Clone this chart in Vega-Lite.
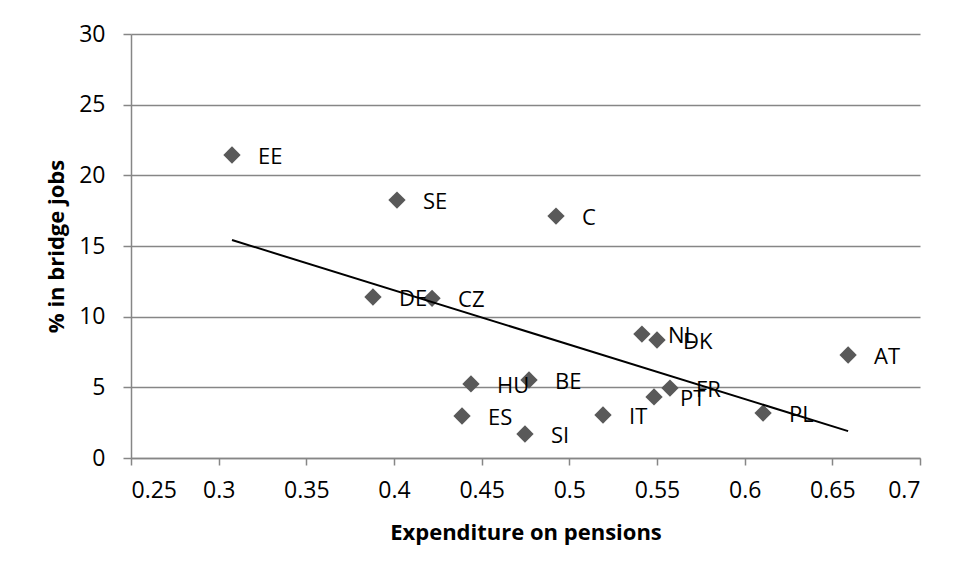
{
  "$schema": "https://vega.github.io/schema/vega-lite/v6.json",
  "width": 789,
  "height": 424,
  "autosize": {"type": "none"},
  "padding": {"left": 131, "top": 34, "right": 34, "bottom": 120},
  "background": "white",
  "config": {
    "view": {"stroke": null},
    "font": "Open Sans",
    "axis": {"labelFont": "Open Sans", "titleFont": "Open Sans", "labelColor": "#000000", "titleColor": "#000000"}
  },
  "data": {
    "values": [
      {"country": "EE", "pension": 0.3076, "bridge": 21.44},
      {"country": "SE", "pension": 0.4017, "bridge": 18.25},
      {"country": "C", "pension": 0.4924, "bridge": 17.12},
      {"country": "DE", "pension": 0.388, "bridge": 11.39},
      {"country": "CZ", "pension": 0.4217, "bridge": 11.3},
      {"country": "NL", "pension": 0.5414, "bridge": 8.77},
      {"country": "DK", "pension": 0.55, "bridge": 8.35},
      {"country": "AT", "pension": 0.659, "bridge": 7.29},
      {"country": "HU", "pension": 0.4439, "bridge": 5.24},
      {"country": "BE", "pension": 0.477, "bridge": 5.52},
      {"country": "FR", "pension": 0.5574, "bridge": 4.95},
      {"country": "PT", "pension": 0.5483, "bridge": 4.32},
      {"country": "ES", "pension": 0.4388, "bridge": 2.97},
      {"country": "IT", "pension": 0.5192, "bridge": 3.04},
      {"country": "PL", "pension": 0.6105, "bridge": 3.18},
      {"country": "SI", "pension": 0.4747, "bridge": 1.70}
    ]
  },
  "encoding": {
    "x": {
      "field": "pension", "type": "quantitative",
      "scale": {"domain": [0.25, 0.7], "nice": false, "zero": false},
      "axis": {
        "title": "Expenditure on pensions",
        "values": [0.25, 0.3, 0.35, 0.4, 0.45, 0.5, 0.55, 0.6, 0.65, 0.7],
        "format": "~g",
        "grid": false,
        "domainColor": "#868686", "domainWidth": 1.5,
        "tickColor": "#868686", "tickWidth": 1.5, "tickSize": 7,
        "labelFontSize": 23, "labelPadding": 14,
        "titleFontSize": 22, "titleFontWeight": "bold", "titlePadding": 20
      }
    },
    "y": {
      "field": "bridge", "type": "quantitative",
      "scale": {"domain": [0, 30], "nice": false},
      "axis": {
        "title": "% in bridge jobs",
        "values": [0, 5, 10, 15, 20, 25, 30],
        "grid": true, "gridColor": "#868686", "gridWidth": 1.5,
        "domainColor": "#868686", "domainWidth": 1.5,
        "tickColor": "#868686", "tickWidth": 1.5, "tickSize": 8,
        "labelFontSize": 23, "labelPadding": 18,
        "titleFontSize": 22, "titleFontWeight": "bold", "titlePadding": 10
      }
    }
  },
  "layer": [
    {
      "mark": {"type": "point", "shape": "diamond", "filled": true, "size": 300, "color": "#595959", "opacity": 1}
    },
    {
      "mark": {"type": "text", "align": "left", "baseline": "middle", "dx": 26, "dy": 2, "fontSize": 22, "color": "#000000", "font": "Open Sans"},
      "encoding": {"text": {"field": "country"}}
    },
    {
      "transform": [{"regression": "bridge", "on": "pension"}],
      "mark": {"type": "line", "color": "#000000", "strokeWidth": 2}
    }
  ]
}
